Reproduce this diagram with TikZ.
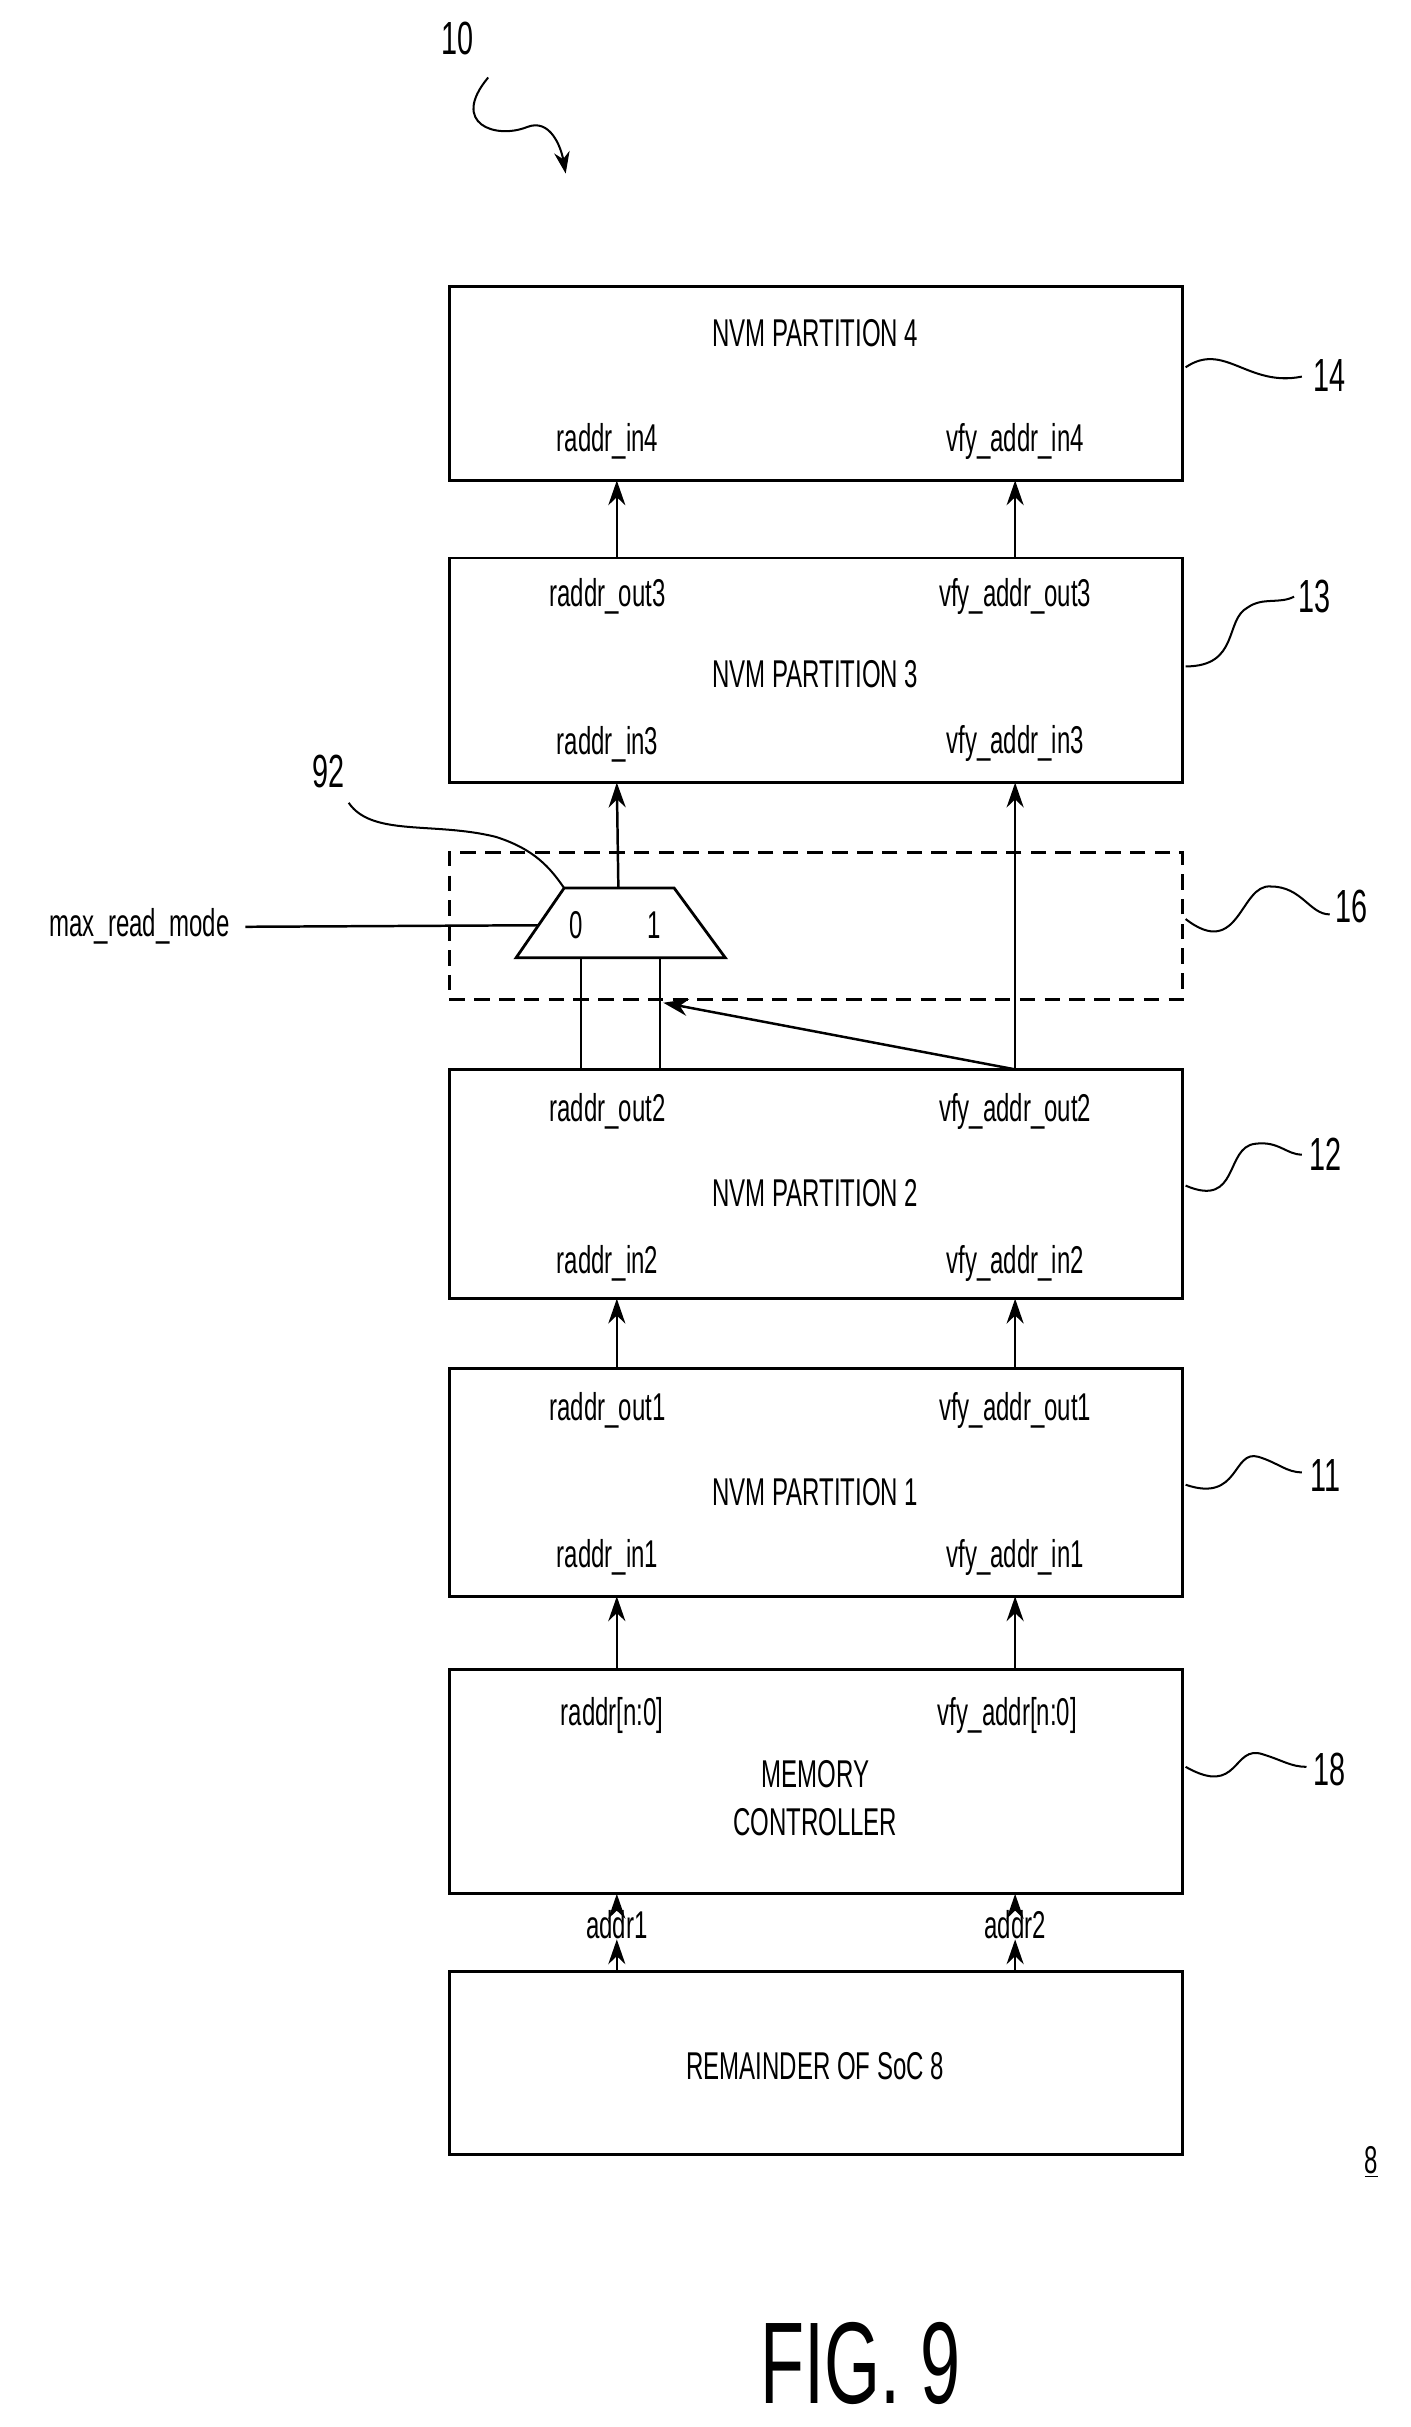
\documentclass[tikz,border=0pt]{standalone}
\usepackage{fontspec}
\setmainfont[FakeStretch=0.62]{Liberation Sans}
\usetikzlibrary{arrows.meta}
\begin{document}
\begin{tikzpicture}[x=1pt,y=-1pt,
  box/.style={draw,line width=1.8pt,minimum width=473pt,inner sep=0pt},
  lbl/.style={font=\fontsize{25}{28}\selectfont,inner sep=0pt},
  arr/.style={line width=1.6pt,-{Stealth[length=16pt,width=11pt]}},
  ln/.style={line width=1.6pt},
  sq/.style={line width=1.3pt}]
\useasboundingbox (0,0) rectangle (910,1566);
% boxes
\node[box,minimum height=125pt] (p4) at (526.5,247.5) {};
\node[box,minimum height=145pt] (p3) at (526.5,432.5) {};
\node[box,minimum height=148pt] (p2) at (526.5,764) {};
\node[box,minimum height=147pt] (p1) at (526.5,956.5) {};
\node[box,minimum height=145pt] (mc) at (526.5,1149.5) {};
\node[box,minimum height=118pt] (soc) at (526.5,1331) {};
\node[draw,dashed,dash pattern=on 10pt off 6pt,line width=1.8pt,minimum width=473pt,minimum height=95pt,inner sep=0pt] (d16) at (526.5,597.5) {};
% texts
\node[lbl] (t4) at (526,215) {NVM PARTITION 4};
\node[lbl] (a4) at (392,285) {raddr\_in4};
\node[lbl] (b4) at (655,285) {vfy\_addr\_in4};
\node[lbl] (a3o) at (392,385) {raddr\_out3};
\node[lbl] (b3o) at (655,385) {vfy\_addr\_out3};
\node[lbl] (t3) at (526,435) {NVM PARTITION 3};
\node[lbl] (a3) at (392,480) {raddr\_in3};
\node[lbl] (b3) at (655,480) {vfy\_addr\_in3};
\node[lbl] (a2o) at (392,717) {raddr\_out2};
\node[lbl] (b2o) at (655,717) {vfy\_addr\_out2};
\node[lbl] (t2) at (526,770) {NVM PARTITION 2};
\node[lbl] (a2) at (392,815) {raddr\_in2};
\node[lbl] (b2) at (655,815) {vfy\_addr\_in2};
\node[lbl] (a1o) at (392,910) {raddr\_out1};
\node[lbl] (b1o) at (655,910) {vfy\_addr\_out1};
\node[lbl] (t1) at (526,963) {NVM PARTITION 1};
\node[lbl] (a1) at (392,1005) {raddr\_in1};
\node[lbl] (b1) at (655,1005) {vfy\_addr\_in1};
\node[lbl] (am) at (395,1107) {raddr[n:0]};
\node[lbl] (bm) at (650,1107) {vfy\_addr[n:0]};
\node[lbl,align=center] (tm) at (526,1160) {MEMORY\\[3pt]CONTROLLER};
\node[lbl] (ad1) at (398,1242) {addr1};
\node[lbl] (ad2) at (655,1242) {addr2};
\node[lbl] (ts) at (526,1333) {REMAINDER OF SoC 8};
\node[lbl] (mrm) at (90,598) {max\_read\_mode};
% mux
\coordinate (m1) at (364,573); \coordinate (m2) at (435,573);
\coordinate (m3) at (468,618); \coordinate (m4) at (333,618);
\draw[ln,line width=1.8pt] (m1) -- (m2) -- (m3) -- (m4) -- cycle;
\node[lbl] (z0) at (372,597) {0};
\node[lbl] (z1) at (422,597) {1};
\coordinate (mout) at (399,573);
\coordinate (min0) at (375,618);
\coordinate (min1) at (426,618);
\coordinate (msel) at (347,597);
% arrows between boxes
\draw[arr] (398,360) -- (398,310);
\draw[arr] (655,360) -- (655,310);
\draw[arr] (mout) -- (398,505);
\draw[arr] (655,690) -- (655,505);
\draw[ln] (375,690) -- (min0);
\draw[ln] (426,690) -- (min1);
\draw[arr] (655,690) -- (428,647);
\draw[ln] (mrm.east) ++(10,0) -- (msel);
\draw[arr] (398,883) -- (398,838);
\draw[arr] (655,883) -- (655,838);
\draw[arr] (398,1077) -- (398,1030);
\draw[arr] (655,1077) -- (655,1030);
\draw[arr] (ad1.north) -- (398,1222);
\draw[arr] (ad2.north) -- (655,1222);
\draw[arr] (398,1272) -- (ad1.south);
\draw[arr] (655,1272) -- (ad2.south);
% callouts
\node[lbl,font=\fontsize{30}{32}\selectfont] (n10) at (295,25) {10};
\draw[sq,-{Stealth[length=14pt,width=10pt]}] (315,50) .. controls (290,80) and (320,90) .. (340,82) .. controls (355,76) and (362,95) .. (365,112);
\node[lbl,font=\fontsize{30}{32}\selectfont] (n14) at (858,242) {14};
\draw[sq] (765,237) .. controls (790,220) and (805,250) .. (840,243);
\node[lbl,font=\fontsize{30}{32}\selectfont] (n13) at (848,385) {13};
\draw[sq] (765,430) .. controls (800,430) and (790,400) .. (805,392) .. controls (815,385) and (825,390) .. (835,385);
\node[lbl,font=\fontsize{30}{32}\selectfont] (n16) at (872,585) {16};
\draw[sq] (765,593) .. controls (800,620) and (800,570) .. (820,572) .. controls (840,572) and (845,590) .. (858,590);
\node[lbl,font=\fontsize{30}{32}\selectfont] (n12) at (855,745) {12};
\draw[sq] (765,765) .. controls (800,780) and (790,740) .. (810,738) .. controls (825,736) and (830,745) .. (840,745);
\node[lbl,font=\fontsize{30}{32}\selectfont] (n11) at (855,952) {11};
\draw[sq] (765,958) .. controls (800,970) and (795,935) .. (812,940) .. controls (825,944) and (830,950) .. (840,950);
\node[lbl,font=\fontsize{30}{32}\selectfont] (n18) at (858,1142) {18};
\draw[sq] (765,1140) .. controls (800,1160) and (795,1125) .. (815,1132) .. controls (828,1136) and (833,1140) .. (843,1140);
\node[lbl,font=\fontsize{30}{32}\selectfont] (n92) at (212,498) {92};
\draw[sq] (225,518) .. controls (240,540) and (280,530) .. (320,540) .. controls (345,548) and (355,560) .. (m1);
\node[lbl] (n8) at (885,1395) {\underline{8}};
\node[lbl,font=\fontsize{75}{80}\selectfont] (fig) at (555,1525) {FIG. 9};
\end{tikzpicture}
\end{document}
